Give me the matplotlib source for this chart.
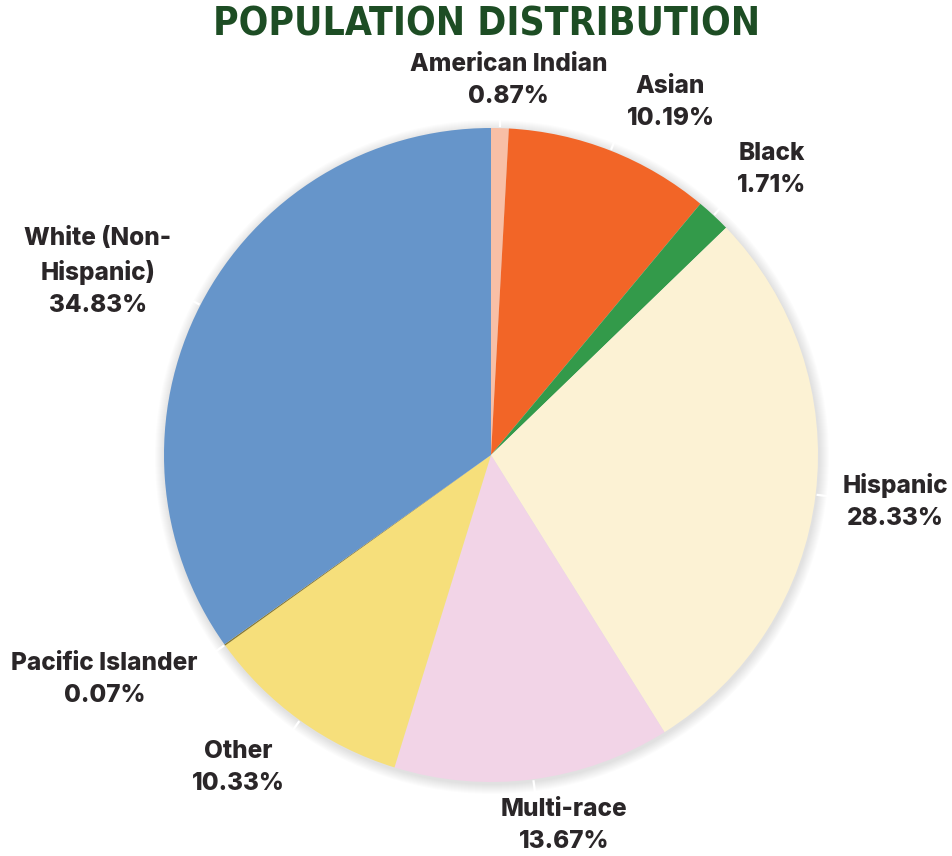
import numpy as np
import matplotlib
matplotlib.use("Agg")
import matplotlib.pyplot as plt
from matplotlib.patches import Circle

# Population shares by group (percent), clockwise from 12 o'clock
groups = ["American Indian", "Asian", "Black", "Hispanic", "Multi-race",
          "Other", "Pacific Islander", "White (Non-\nHispanic)"]
shares = [0.87, 10.19, 1.71, 28.33, 13.67, 10.33, 0.07, 34.83]
colors = ["#F8BFA6", "#F26527", "#339A4A", "#FCF2D4", "#F2D4E7",
          "#F6DF7B", "#8A7A2C", "#6695CA"]

title = "POPULATION DISTRIBUTION"

# label placement: (radius in px, angle shift in degrees from wedge middle)
label_place = [(375, -1.1), (396, -5.5), (400, -1.6), (407, 0.4),
               (378, 3.7), (402, -3.2), (447, -5.3), (434, 2.3)]

W, H = 953, 856
fig = plt.figure(figsize=(W / 100, H / 100), dpi=100)
ax = fig.add_axes([0, 0, 1, 1])
ax.set_aspect("equal")

cx, cy, R = 491, H - 455, 327

# soft drop shadow around the pie
for k in range(10, 0, -1):
    ax.add_patch(Circle((cx + 1, cy - 2), R + k, facecolor="#000000",
                        edgecolor="none", alpha=0.013, zorder=1))

wedges, _ = ax.pie(shares, colors=colors, startangle=90, counterclock=False,
                   center=(cx, cy), radius=R, frame=True,
                   wedgeprops=dict(linewidth=0, zorder=2))
ax.set_xlim(0, W)
ax.set_ylim(0, H)
ax.axis("off")

for w, name, val, (lr, dang) in zip(wedges, groups, shares, label_place):
    mid = np.deg2rad((w.theta1 + w.theta2) / 2)
    # short white leader line
    ax.plot([cx + (R + 1) * np.cos(mid), cx + (R + 16) * np.cos(mid)],
            [cy + (R + 1) * np.sin(mid), cy + (R + 16) * np.sin(mid)],
            color="white", lw=1.6, zorder=3, solid_capstyle="butt")
    a = mid + np.deg2rad(dang)
    ax.text(cx + lr * np.cos(a), cy + lr * np.sin(a), f"{name}\n{val:.2f}%",
            ha="center", va="center", fontsize=17.5, fontweight="heavy",
            family=["Inter", "DejaVu Sans"], color="#2A2628",
            linespacing=1.5, zorder=4)

fig.text(487 / W, 1 - 24 / H, title, ha="center", va="center",
         fontsize=28, fontweight="bold", fontstretch="condensed",
         color="#1D4D24", family=["DejaVu Sans"])

fig.savefig("out.png", dpi=100, facecolor="white")
